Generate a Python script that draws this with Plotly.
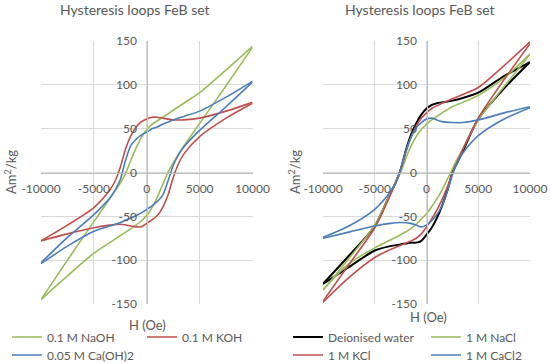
import plotly.graph_objects as go

# ---------------- data ----------------
H_desc = [10000, 7500, 5000, 3500, 2500, 1500, 1000, 500, 0, -500, -1000, -1500,
          -2000, -2500, -3000, -3500, -5000, -7500, -10000]
H_asc = [-10000, -7500, -5000, -3500, -2500, -1500, -1000, -500, 0, 500, 1000, 1500,
         2000, 2500, 3000, 3500, 5000, 7500, 10000]

# left panel (upper branch on H_desc, lower branch on H_asc)
naoh_up = [144, 117, 91, 79, 71, 63, 59, 55, 49, 40, 28, 14, -1, -12, -21, -30, -56, -100, -145]
naoh_lo = [-145, -118, -92, -80, -72, -64, -60, -55, -49, -40, -28, -14, 0, 11, 21, 30, 56, 99, 143]
koh_up = [80, 70, 62, 60, 60, 62, 63, 63, 61, 58, 52, 42, 27, 6, -10, -20, -40, -60, -78]
koh_lo = [-78, -70, -63, -60, -59, -61, -62, -62, -58, -54, -49, -40, -26, -6, 10, 21, 41, 62, 79]
caoh_up = [104, 86, 70, 64, 60, 55, 52, 50, 46, 43, 38, 31, 14, -8, -20, -29, -48, -74, -103]
caoh_lo = [-104, -84, -67, -61, -57, -52, -49, -46, -42, -38, -33, -26, -10, 8, 20, 29, 48, 75, 103]

# right panel
water_up = [126, 110, 91, 85, 82, 80, 79, 77, 73, 66, 56, 43, 25, 3, -12, -24, -61, -95, -127]
water_lo = [-127, -108, -89, -84, -82, -80, -80, -78, -71, -63, -52, -38, -21, 0, 12, 24, 61, 96, 126]
nacl_up = [135, 108, 88, 80, 75, 68, 64, 60, 55, 49, 41, 30, 16, 0, -12, -24, -60, -98, -134]
nacl_lo = [-134, -104, -86, -77, -71, -64, -59, -53, -47, -39, -30, -20, -8, 4, 16, 27, 60, 98, 135]
kcl_up = [149, 122, 97, 89, 84, 79, 76, 73, 68, 62, 53, 40, 23, 3, -12, -26, -63, -105, -147]
kcl_lo = [-148, -120, -97, -88, -83, -78, -75, -70, -62, -53, -43, -31, -17, -1, 13, 26, 62, 106, 147]
cacl_up = [75, 68, 60, 57, 57, 58, 60, 62, 61, 57, 51, 40, 24, 4, -12, -22, -42, -61, -74]
cacl_lo = [-75, -68, -61, -58, -57, -58, -60, -62, -60, -55, -48, -38, -22, -3, 12, 22, 42, 61, 74]

x_ticks = [-10000, -5000, 0, 5000, 10000]
x_ticktext = ["-10000", "-5000", "0", "5000", "10000"]
y_ticks = [-150, -100, -50, 0, 50, 100, 150]
y_ticktext = ["-150", "-100", "-50", "0", "50", "100", "150"]

title_text = "Hysteresis loops FeB set"
x_title = "H (Oe)"
y_title = "Am<sup>2</sup>/kg"

GREEN = "#9BBB59"
RED = "#C0504D"
BLUE = "#4A7EBB"
BLACK = "#000000"
FONT = "Lato"
GREY = "#595959"

fig = go.Figure()


def add_loop(name, up, lo, color, xa, ya, legend, width=1.6):
    fig.add_trace(go.Scatter(x=H_desc, y=up, mode="lines", name=name,
                             line=dict(color=color, width=width, shape="spline", smoothing=0.8),
                             xaxis=xa, yaxis=ya, legend=legend, legendgroup=name,
                             showlegend=True, hoverinfo="skip"))
    fig.add_trace(go.Scatter(x=H_asc, y=lo, mode="lines", name=name,
                             line=dict(color=color, width=width, shape="spline", smoothing=0.8),
                             xaxis=xa, yaxis=ya, legend=legend, legendgroup=name,
                             showlegend=False, hoverinfo="skip"))


add_loop("0.1 M NaOH", naoh_up, naoh_lo, GREEN, "x", "y", "legend")
add_loop("0.1 M KOH", koh_up, koh_lo, RED, "x", "y", "legend")
add_loop("0.05 M Ca(OH)2", caoh_up, caoh_lo, BLUE, "x", "y", "legend2")

add_loop("Deionised water", water_up, water_lo, BLACK, "x2", "y2", "legend3", width=2)
add_loop("1 M NaCl", nacl_up, nacl_lo, GREEN, "x2", "y2", "legend3")
add_loop("1 M KCl", kcl_up, kcl_lo, RED, "x2", "y2", "legend4")
add_loop("1 M CaCl2", cacl_up, cacl_lo, BLUE, "x2", "y2", "legend4")

W, Hh = 550, 364
ydom = [1 - 304 / Hh, 1 - 41 / Hh]
ymid = 1 - 172.5 / Hh
tickfont = dict(family=FONT, size=12, color=GREY)


def xax(dom, ypos):
    return dict(domain=dom, range=[-10000, 10000], tickvals=x_ticks, ticktext=x_ticktext,
                showgrid=True, gridcolor="#D9D9D9", gridwidth=1, zeroline=False,
                showline=True, linecolor="#BFBFBF", linewidth=1, ticks="",
                anchor="free", position=ypos, tickfont=tickfont, ticklabelstandoff=5,
                fixedrange=True, automargin=False)


def yax(dom, xpos):
    return dict(domain=dom, range=[-150, 150], tickvals=y_ticks, ticktext=y_ticktext,
                showgrid=True, gridcolor="#D9D9D9", gridwidth=1, zeroline=False,
                showline=True, linecolor="#BFBFBF", linewidth=1, ticks="",
                anchor="free", position=xpos, tickfont=tickfont, ticklabelstandoff=8,
                fixedrange=True, automargin=False)


legend_common = dict(orientation="h", xanchor="left", yanchor="middle",
                     font=dict(family=FONT, size=12, color=GREY),
                     bgcolor="rgba(0,0,0,0)", borderwidth=0, itemwidth=30,
                     entrywidthmode="pixels", tracegroupgap=0)


def ann(text, x, y, size, angle=0):
    return dict(text=text, x=x / W, y=1 - y / Hh, xref="paper", yref="paper",
                xanchor="center", yanchor="middle", showarrow=False, textangle=angle,
                font=dict(family=FONT, size=size, color=GREY))


fig.update_layout(
    width=W, height=Hh, margin=dict(l=0, r=0, t=0, b=0, autoexpand=False),
    paper_bgcolor="white", plot_bgcolor="white",
    xaxis=xax([41 / W, 252.5 / W], ymid),
    yaxis=yax(ydom, 147.3 / W),
    xaxis2=xax([323 / W, 530 / W], ymid),
    yaxis2=yax(ydom, 427.3 / W),
    legend=dict(legend_common, x=7 / W, y=1 - 337 / Hh, entrywidth=90),
    legend2=dict(legend_common, x=7 / W, y=1 - 355 / Hh, entrywidth=150),
    legend3=dict(legend_common, x=288 / W, y=1 - 337 / Hh, entrywidth=93),
    legend4=dict(legend_common, x=288 / W, y=1 - 355 / Hh, entrywidth=93),
    annotations=[
        ann(title_text, 135, 9, 14),
        ann(title_text, 419.5, 9, 14),
        ann(y_title, 10, 172, 13, -90),
        ann(y_title, 294, 172, 13, -90),
        ann(x_title, 147, 325, 13),
        ann(x_title, 428, 317, 13),
    ],
)

fig.write_html("out.html", config={"displayModeBar": False},
               post_script="document.body.style.margin='0';document.body.style.padding='0';")
